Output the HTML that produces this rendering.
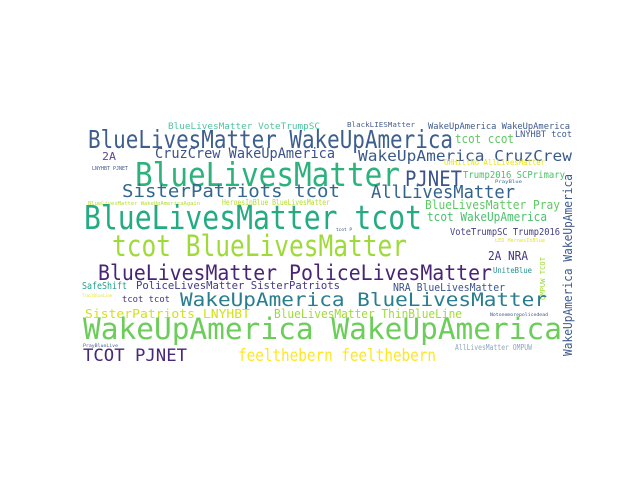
<!DOCTYPE html>
<html><head><meta charset="utf-8"><style>
html,body{margin:0;padding:0;background:#fff;width:640px;height:480px;overflow:hidden}
svg text{font-family:"DejaVu Sans Mono","Liberation Mono",monospace}
</style></head><body>
<svg id="cloud" width="640" height="480" viewBox="0 0 640 480" xmlns="http://www.w3.org/2000/svg"></svg>
<script>
const words = ["BlueLivesMatter VoteTrumpSC","BlackLIESMatter","WakeUpAmerica WakeUpAmerica","BlueLivesMatter WakeUpAmerica","tcot ccot","LNYHBT tcot","2A","CruzCrew WakeUpAmerica","WakeUpAmerica CruzCrew","LNYHBT PJNET","BlueLivesMatter","PJNET","OHHillNo AllLivesMatter","Trump2016 SCPrimary","SisterPatriots tcot","AllLivesMatter","PrayBlue","BlueLivesMatter WakeUpAmericaAgain","HeroesInBlue BlueLivesMatter","BlueLivesMatter Pray","BlueLivesMatter tcot","tcot WakeUpAmerica","WakeUpAmerica WakeUpAmerica","tcot P","VoteTrumpSC Trump2016","tcot BlueLivesMatter","LEO HeroesInBlue","2A NRA","BlueLivesMatter PoliceLivesMatter","UniteBlue","OMPUW TCOT","SafeShift","PoliceLivesMatter SisterPatriots","NRA BlueLivesMatter","WakeUpAmerica BlueLivesMatter","TrailBlueLine","tcot tcot","SisterPatriots LNYHBT","BlueLivesMatter ThinBlueLine","Notonemorepolicedead","WakeUpAmerica WakeUpAmerica","PrayBlueLive","AllLivesMatter OMPUW","TCOT PJNET","feelthebern feelthebern"];
const sizes = [9,7,9,25,12,9,11,14,15,5,33,21,8,10,18,18,4,5,8,12,33,12,12,4,10,29,5,12,21,8,7,10,11,11,19,4,9,12,12,4,29,4,8,17,17];
// layout: [x, baselineY, width, rotated]
const layout = [[168,129,152,0],[347,127,68,0],[428,129,142,0],[88,148,365,0],[455,143,59,0],[515,137,57,0],[102,160,14,0],[155,158,180,0],[358,161,214,0],[92,170,36,0],[135,186,265,0],[405,186,57,0],[444,165,101,0],[463,178,102,0],[122,197,218,0],[371,198,144,0],[495,183,27,0],[88,205,112,0],[222,205,108,0],[425,209,135,0],[84,229,338,0],[427,221,120,0],[572,356,182,1],[336,231,16,0],[450,235,110,0],[112,256,295,0],[495,242,50,0],[488,260,40,0],[98,280,394,0],[493,273,39,0],[545,300,43,1],[82,289,45,0],[136,289,204,0],[393,291,112,0],[180,306,367,0],[82,297,30,0],[122,302,48,0],[85,318,165,0],[274,318,188,0],[490,316,58,0],[83,339,479,0],[83,347,35,0],[455,350,77,0],[83,361,104,0],[238,361,198,0]];
const colors = ["#4fc3a0","#4a5f8c","#3e5a8c","#3e5f8e","#5dc863","#3e5a8c","#5a4a8c","#3b528b","#3b5a8c","#46588c","#2db27d","#3b528b","#e8e419","#4ac16d","#31688e","#33638d","#31688e","#b5de2b","#b5de2b","#5ec962","#25ab82","#4ac16d","#3e5a8c","#3b528b","#433e85","#9fda3a","#e8e419","#46337e","#482475","#21918c","#a0da39","#1f9e89","#443983","#3b528b","#287d8e","#e8e419","#46337e","#d2e21b","#a0da39","#3b528b","#6ccd5a","#3e5a8c","#8fa8c0","#482878","#fde725"];
const svg = document.getElementById('cloud');
const NS = "http://www.w3.org/2000/svg";
for (let i = 0; i < words.length; i++) {
  const [x, y, w, rot] = layout[i];
  const t = document.createElementNS(NS, 'text');
  
  
  t.setAttribute('font-size', sizes[i]);
  t.setAttribute('fill', colors[i]);
  t.setAttribute('textLength', w);
  t.setAttribute('lengthAdjust', 'spacingAndGlyphs');
  if (rot) {
    t.setAttribute('x', 0); t.setAttribute('y', 0);
    t.setAttribute('transform', 'translate(' + x + ',' + y + ') rotate(-90)');
  } else {
    t.setAttribute('x', x); t.setAttribute('y', y);
  }
  t.textContent = words[i];
  svg.appendChild(t);
}
</script>
</body></html>
